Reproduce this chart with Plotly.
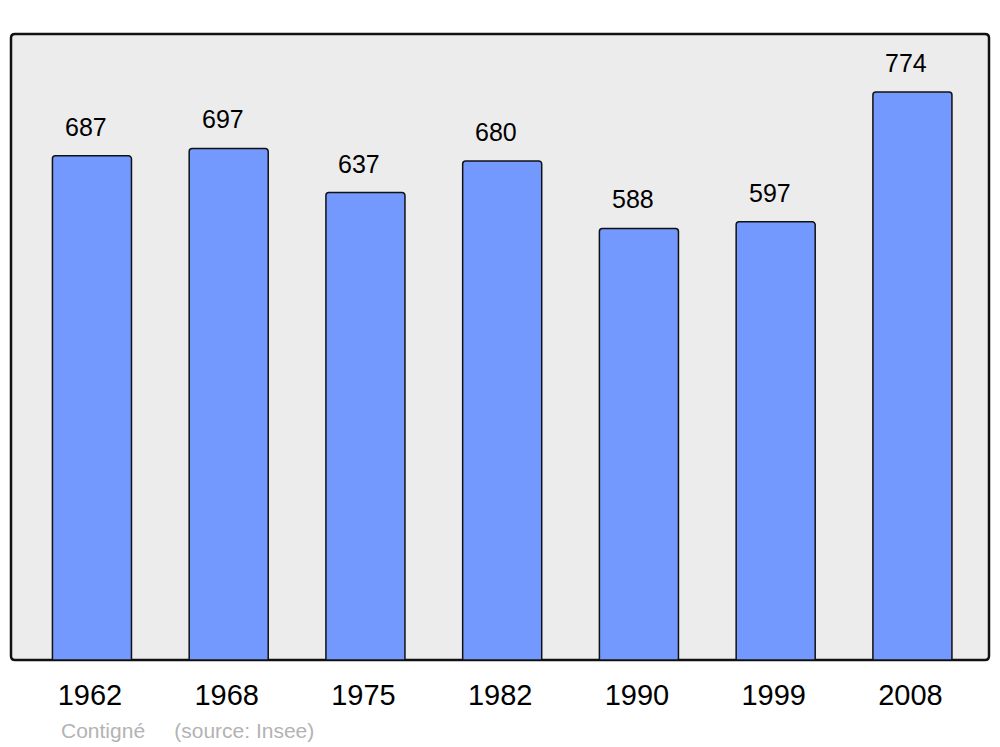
import plotly.graph_objects as go

years = ["1962", "1968", "1975", "1982", "1990", "1999", "2008"]
population = [687, 697, 637, 680, 588, 597, 774]
positions = list(range(len(years)))
source_text = "Contigné    (source: Insee)"

fig = go.Figure()
fig.add_trace(go.Bar(
    x=positions, y=population, width=0.578,
    marker=dict(color="#7399ff", line=dict(color="#111111", width=1.5), cornerradius=3),
    hoverinfo="skip",
))

for xv, v in zip(positions, population):
    fig.add_annotation(x=xv, y=v, text=str(v), showarrow=False, xanchor="center",
                       yanchor="middle", yshift=29, xshift=-6,
                       font=dict(family="Liberation Sans, Arial", size=25, color="#000000"))

fig.add_annotation(x=(59 - 11) / 978, y=(660 - 730) / 626, xref="paper", yref="paper",
                   text=source_text.replace("    ", "&nbsp;&nbsp;&nbsp;&nbsp;&nbsp;"),
                   showarrow=False, xanchor="left", yanchor="middle",
                   font=dict(family="Liberation Sans, Arial", size=21, color="#b3b3b3"))

rx, ry = 4 / 978, 4 / 626
path = (f"M {rx},0 L {1-rx},0 Q 1,0 1,{ry} L 1,{1-ry} Q 1,1 {1-rx},1 "
        f"L {rx},1 Q 0,1 0,{1-ry} L 0,{ry} Q 0,0 {rx},0 Z")
fig.add_shape(type="path", path=path, xref="paper", yref="paper",
              line=dict(color="#111111", width=2.5), fillcolor="#ececec", layer="below")

fig.update_layout(
    width=1000, height=747,
    margin=dict(l=11, r=11, t=34, b=87),
    paper_bgcolor="white", plot_bgcolor="white",
    showlegend=False,
    xaxis=dict(range=[-0.592, 6.56], tickvals=positions, ticktext=years,
               showgrid=False, zeroline=False, showline=False, ticks="",
               ticklabelstandoff=15, ticklabelshift=-2,
               tickfont=dict(family="Liberation Sans, Arial", size=29, color="#000000")),
    yaxis=dict(range=[0, 853], showgrid=False, zeroline=False, showline=False,
               showticklabels=False, ticks=""),
)

fig.write_html("out.html", config={"displayModeBar": False},
               post_script="document.body.style.margin='0';")
